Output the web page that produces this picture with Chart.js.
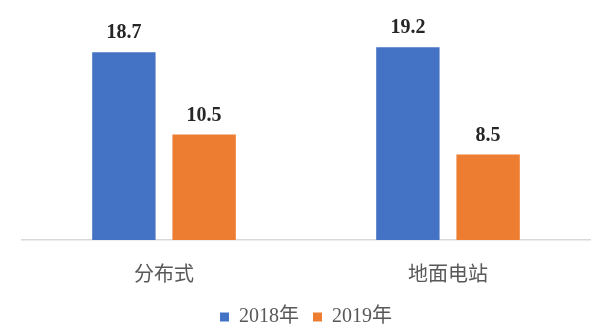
<!DOCTYPE html>
<html>
<head>
<meta charset="utf-8">
<script src="https://cdn.jsdelivr.net/npm/chart.js@4.4.1/dist/chart.umd.min.js"></script>
<style>
html,body{margin:0;padding:0;background:#fff;}
#wrap{width:612px;height:334px;}
</style>
</head>
<body>
<div id="wrap"><canvas id="c" width="612" height="334"></canvas></div>
<script>
const categories = ['分布式', '地面电站'];
const seriesNames = ['2018年', '2019年'];
const values2018 = [18.7, 19.2];
const values2019 = [10.5, 8.5];

const valueLabels = {
  id: 'valueLabels',
  afterDatasetsDraw(chart) {
    const ctx = chart.ctx;
    ctx.save();
    ctx.font = 'bold 20px "Liberation Serif", serif';
    ctx.fillStyle = '#262626';
    ctx.textAlign = 'center';
    ctx.textBaseline = 'alphabetic';
    chart.data.datasets.forEach((ds, i) => {
      chart.getDatasetMeta(i).data.forEach((bar, j) => {
        ctx.fillText(ds.data[j].toFixed(1), bar.x, bar.y - 14);
      });
    });
    ctx.restore();
  }
};

new Chart(document.getElementById('c'), {
  type: 'bar',
  data: {
    labels: categories,
    datasets: [
      { label: seriesNames[0], data: values2018, backgroundColor: '#4472C4', barPercentage: 0.79, categoryPercentage: 0.565 },
      { label: seriesNames[1], data: values2019, backgroundColor: '#ED7D31', barPercentage: 0.79, categoryPercentage: 0.565 }
    ]
  },
  options: {
    responsive: false,
    animation: false,
    layout: { padding: { left: 22, right: 22, top: 19, bottom: -3 } },
    plugins: {
      legend: {
        position: 'bottom',
        labels: {
          boxWidth: 9, boxHeight: 9, padding: 14,
          color: '#595959',
          font: { family: "'Liberation Serif', 'Noto Sans CJK SC', serif", size: 20 }
        }
      },
      tooltip: { enabled: false }
    },
    scales: {
      x: {
        grid: { display: true, drawOnChartArea: false, drawTicks: false },
        border: { display: true, color: '#D9D9D9', width: 1.5 },
        ticks: { color: '#595959', padding: 21, font: { family: '"Noto Sans CJK SC", sans-serif', size: 20 } },
        afterFit(scale) { scale.height -= 13; }
      },
      y: { display: false, min: 0, max: 22 }
    }
  },
  plugins: [valueLabels]
});
</script>
</body>
</html>
